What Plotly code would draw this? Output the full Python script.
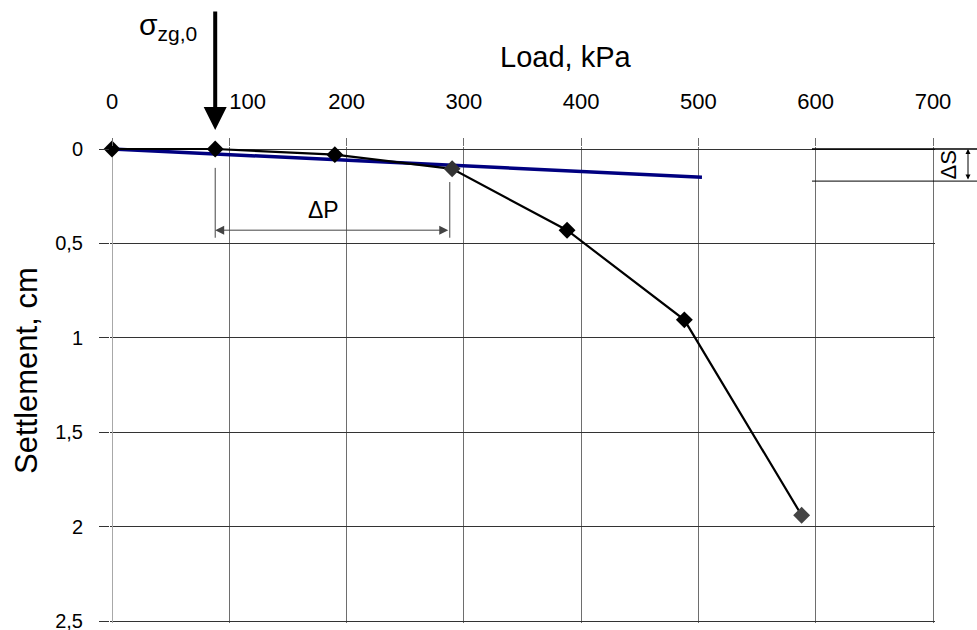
import plotly.graph_objects as go

# Plate load test: settlement vs. applied load
load_kpa = [0, 88, 190, 290, 388, 488, 588]
settlement_cm = [0.0, 0.0, 0.03, 0.105, 0.43, 0.905, 1.94]
marker_colors = ["#000", "#000", "#000", "#333", "#000", "#000", "#444"]

# Linear (elastic) trend line
trend_load = [0, 503]
trend_settlement = [0.0, 0.15]

# Axis ticks
x_ticks = [0, 100, 200, 300, 400, 500, 600, 700]
x_ticklabels = ["0", "\u00a0" * 6 + "100", "200", "300", "400", "500", "600", "700"]
y_ticks = [0, 0.5, 1, 1.5, 2, 2.5]
y_ticklabels = ["0", "0,5", "1", "1,5", "2", "2,5"]

# Annotated quantities
sigma_zg0 = 88          # initial geostatic stress, kPa
dp_end = 288            # end of the ΔP interval, kPa
dp_level = 0.43         # height of the ΔP dimension line, cm
ds_value = 0.17         # ΔS dimension, cm

FONT = "Liberation Sans, Arial, sans-serif"

# Axis ranges are padded by 2 px so the edge grid lines (0, 700 and 0, 2.5) are kept
PAD_PX = 2
x_pad = PAD_PX * 700 / 821
y_pad = PAD_PX * 2.5 / 472
W, H = 977, 630
L, R, T, B = 112 - PAD_PX, 44 - PAD_PX, 149 - PAD_PX, 9 - PAD_PX
plot_w = W - L - R
plot_h = H - T - B


def px_x(px):
    """Paper x coordinate of an absolute pixel column."""
    return (px - L) / plot_w


def px_y(py):
    """Paper y coordinate of an absolute pixel row."""
    return 1 - (py - T) / plot_h


fig = go.Figure()

fig.add_trace(go.Scatter(
    x=trend_load, y=trend_settlement, mode="lines",
    line=dict(color="#000080", width=3.5), hoverinfo="skip", showlegend=False,
))
fig.add_trace(go.Scatter(
    x=load_kpa, y=settlement_cm, mode="lines+markers",
    line=dict(color="#000", width=2.2),
    marker=dict(symbol="diamond", size=13, color=marker_colors),
    cliponaxis=False, showlegend=False,
))

shapes = [
    # ΔP extension lines
    dict(type="line", xref="x", yref="y", x0=sigma_zg0, x1=sigma_zg0, y0=0.1, y1=0.47,
         line=dict(color="#444", width=1)),
    dict(type="line", xref="x", yref="y", x0=dp_end, x1=dp_end, y0=0.175, y1=0.47,
         line=dict(color="#444", width=1)),
    # ΔS extension lines
    dict(type="line", xref="paper", yref="y", x0=px_x(812), x1=px_x(977), y0=0, y1=0,
         line=dict(color="#000", width=1.5)),
    dict(type="line", xref="paper", yref="y", x0=px_x(812), x1=px_x(977),
         y0=ds_value, y1=ds_value, line=dict(color="#000", width=1)),
]

annotations = [
    # axis titles
    dict(text="Load, kPa", xref="paper", yref="paper", x=px_x(565), y=px_y(57),
         xanchor="center", yanchor="middle", showarrow=False,
         font=dict(size=29, family=FONT, color="#000")),
    dict(text="Settlement, cm", xref="paper", yref="paper", x=px_x(26), y=px_y(371),
         xanchor="center", yanchor="middle", showarrow=False, textangle=-90,
         font=dict(size=31, family=FONT, color="#000")),
    # σzg,0 arrow and label
    dict(text="", xref="x", yref="paper", x=sigma_zg0, y=px_y(130),
         axref="pixel", ayref="pixel", ax=0, ay=-120, showarrow=True,
         arrowhead=2, arrowsize=1.15, arrowwidth=4, arrowcolor="#000"),
    dict(text="σ<sub>zg,0</sub>", xref="paper", yref="paper", x=px_x(137), y=px_y(26),
         xanchor="left", yanchor="middle", showarrow=False,
         font=dict(size=30, family=FONT, color="#000")),
    # ΔP dimension
    dict(text="", xref="x", yref="y", x=sigma_zg0, y=dp_level,
         axref="x", ayref="y", ax=dp_end, ay=dp_level, showarrow=True,
         arrowside="end+start", arrowhead=2, arrowsize=1.8, arrowwidth=1,
         arrowcolor="#444"),
    dict(text="ΔP", xref="x", yref="y", x=180, y=0.325, showarrow=False,
         xanchor="center", yanchor="middle",
         font=dict(size=23, family=FONT, color="#000")),
    # ΔS dimension
    dict(text="", xref="paper", yref="y", x=px_x(968), y=0,
         axref="pixel", ayref="y", ax=0, ay=ds_value, showarrow=True,
         arrowside="end+start", arrowhead=2, arrowsize=1, arrowwidth=1,
         arrowcolor="#000"),
    dict(text="ΔS", xref="paper", yref="y", x=px_x(948.5), y=ds_value / 2,
         xanchor="center", yanchor="middle", showarrow=False, textangle=-90,
         font=dict(size=22, family=FONT, color="#000")),
]

fig.update_layout(
    width=W, height=H,
    margin=dict(l=L, r=R, t=T, b=B, autoexpand=False),
    paper_bgcolor="white", plot_bgcolor="white",
    font=dict(family=FONT, color="#000"),
    shapes=shapes, annotations=annotations,
)

fig.update_xaxes(
    side="top", range=[-x_pad, 700 + x_pad], tickvals=x_ticks, ticktext=x_ticklabels,
    showgrid=True, gridcolor="#6e6e6e", gridwidth=1,
    zeroline=True, zerolinecolor="#a8a8a8", zerolinewidth=1,
    ticks="outside", ticklen=6 + PAD_PX, tickcolor="#6e6e6e",
    ticklabelstandoff=20, tickfont=dict(size=22, family=FONT, color="#000"),
    ticklabeloverflow="allow", automargin=False, showline=False, fixedrange=True,
)
fig.update_yaxes(
    range=[2.5 + y_pad, -y_pad], tickvals=y_ticks, ticktext=y_ticklabels,
    showgrid=True, gridcolor="#333", gridwidth=1, zeroline=False,
    ticks="outside", ticklen=8 + PAD_PX, tickcolor="#333",
    ticklabelstandoff=12, tickfont=dict(size=20, family=FONT, color="#000"),
    ticklabeloverflow="allow", automargin=False, showline=False, fixedrange=True,
)

fig.write_html("out.html")
